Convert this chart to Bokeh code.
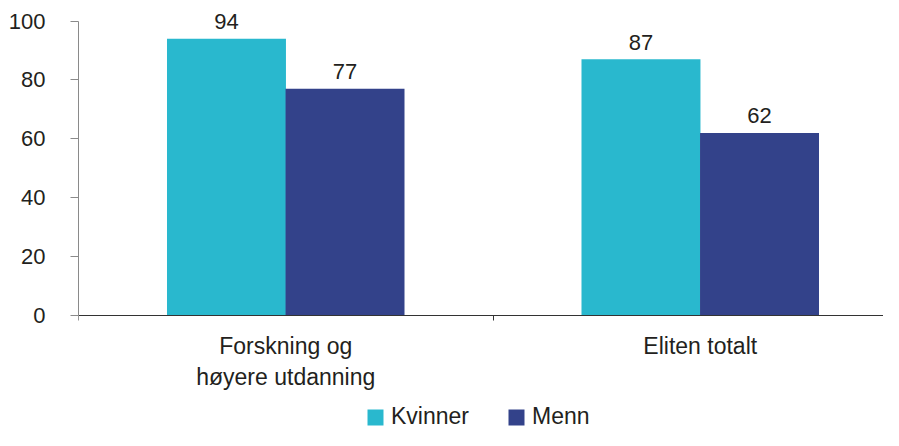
from bokeh.plotting import figure
from bokeh.models import (Range1d, FixedTicker, Legend, LegendItem, ColumnDataSource,
                          LinearAxis)
from bokeh.core.properties import value
from bokeh.embed import file_html
from bokeh.resources import INLINE

categories = ["Forskning og\nhøyere utdanning", "Eliten totalt"]
series = ["Kvinner", "Menn"]
kvinner = [94, 87]
menn = [77, 62]
colors = ["#29B8CE", "#33428A"]
y_ticks = [0, 20, 40, 60, 80, 100]

FONT = "Liberation Sans"
TEXT = "#231F20"

W, H = 883, 430
left, zero_px = 78, 315
cat_px = 414.5
px_per_unit = 2.945

p = figure(width=W, height=H, output_backend="svg", toolbar_location=None,
           x_range=Range1d(0, (W - left) / cat_px),
           y_range=Range1d(-(H - zero_px) / px_per_unit, zero_px / px_per_unit),
           x_axis_location=None,
           min_border_left=left, min_border_right=0, min_border_top=0,
           min_border_bottom=0)
p.outline_line_color = None
p.xgrid.visible = False
p.ygrid.visible = False

centers = [i + 0.5 for i in range(len(categories))]
off = 0.143
bw = 0.287
renderers = []
for vals, col, sgn in [(kvinner, colors[0], -1), (menn, colors[1], 1)]:
    xs = [c + sgn * off for c in centers]
    src = ColumnDataSource(dict(x=xs, top=vals, lab=[str(v) for v in vals]))
    r = p.vbar(x="x", top="top", bottom=0, width=bw, source=src,
               fill_color=col, line_color=None)
    renderers.append(r)
    p.text(x="x", y="top", text="lab", source=src, text_align="center",
           text_baseline="alphabetic", y_offset=-17, text_font_size="22px",
           text_font=value(FONT), text_color=TEXT)

# x axis, fixed at y = 0
xa = LinearAxis(fixed_location=0)
xa.ticker = FixedTicker(ticks=centers, minor_ticks=[0, 1, 2])
xa.major_label_overrides = {c: lab for c, lab in zip(centers, categories)}
xa.major_tick_out = 0
xa.major_tick_in = 0
xa.minor_tick_out = 5
xa.minor_tick_in = 0
xa.axis_line_color = "#333333"
xa.minor_tick_line_color = "#333333"
xa.major_label_text_font = FONT
xa.major_label_text_font_size = "23px"
xa.major_label_text_color = TEXT
xa.major_label_standoff = 12
p.add_layout(xa, "below")

# y axis
ya = p.yaxis[0]
ya.ticker = FixedTicker(ticks=y_ticks)
ya.bounds = (0, 100)
ya.axis_line_color = "#8A8A8A"
ya.major_tick_line_color = "#8A8A8A"
ya.major_tick_out = 8
ya.major_tick_in = 0
ya.minor_tick_line_color = None
ya.major_label_text_font = FONT
ya.major_label_text_font_size = "22px"
ya.major_label_text_color = TEXT
ya.major_label_standoff = 25

legend = Legend(items=[LegendItem(label=s, renderers=[r]) for s, r in zip(series, renderers)],
                location=(287, 0), orientation="horizontal",
                glyph_width=20, glyph_height=20, label_standoff=6, spacing=37,
                padding=0, margin=0, border_line_color=None,
                background_fill_alpha=0,
                label_text_font=FONT, label_text_font_size="23px",
                label_text_color=TEXT)
p.add_layout(legend)

open("out.html", "w").write(file_html(p, INLINE))
